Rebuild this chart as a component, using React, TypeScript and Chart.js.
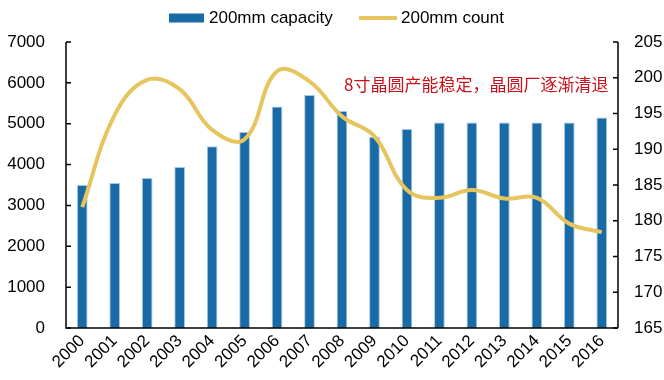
import React, { useEffect, useRef } from "react";
import { Chart, registerables } from "chart.js";

Chart.register(...registerables);

const years = ["2000","2001","2002","2003","2004","2005","2006","2007","2008","2009","2010","2011","2012","2013","2014","2015","2016"];
const capacity = [3500, 3550, 3670, 3940, 4450, 4800, 5420, 5700, 5310, 4680, 4870, 5030, 5030, 5030, 5030, 5030, 5150];
const fabCount = [181.9, 194.8, 199.7, 198.4, 192.7, 191.4, 200.9, 199.5, 194.6, 191.8, 184.3, 183.2, 184.3, 183.1, 183.2, 179.6, 178.4];
const leftTicks = [0, 1000, 2000, 3000, 4000, 5000, 6000, 7000];
const rightTicks = [165, 170, 175, 180, 185, 190, 195, 200, 205];
const note = "8寸晶圆产能稳定，晶圆厂逐渐清退";

const BAR = "#1A6AA5";
const LINE = "#E6C55E";
const FONT = "Liberation Sans, Arial, sans-serif";

// Axis lines with inward ticks, top legend and the red note
const decorPlugin = {
  id: "decor",
  afterDraw(chart: any) {
    const { ctx, chartArea, scales } = chart;
    const { left, right, top, bottom } = chartArea;
    ctx.save();
    ctx.strokeStyle = "#000";
    ctx.lineWidth = 1.5;
    ctx.beginPath();
    ctx.moveTo(left, top);
    ctx.lineTo(left, bottom);
    ctx.lineTo(right, bottom);
    ctx.moveTo(right, top);
    ctx.lineTo(right, bottom);
    ctx.stroke();
    ctx.beginPath();
    leftTicks.forEach((v) => {
      const y = scales.y.getPixelForValue(v);
      ctx.moveTo(left, y);
      ctx.lineTo(left + 5, y);
    });
    rightTicks.forEach((v) => {
      const y = scales.y1.getPixelForValue(v);
      ctx.moveTo(right, y);
      ctx.lineTo(right - 5, y);
    });
    ctx.stroke();

    // legend
    const ds = chart.data.datasets;
    ctx.font = `17px ${FONT}`;
    ctx.textBaseline = "middle";
    ctx.textAlign = "left";
    const ly = 18;
    ctx.fillStyle = BAR;
    ctx.fillRect(169, ly - 4.5, 35, 9);
    ctx.fillStyle = "#000";
    ctx.fillText(ds[0].label, 209, ly);
    ctx.strokeStyle = LINE;
    ctx.lineWidth = 4;
    ctx.beginPath();
    ctx.moveTo(359, ly);
    ctx.lineTo(397, ly);
    ctx.stroke();
    ctx.fillText(ds[1].label, 401, ly);

    // note
    ctx.font = `17px "Noto Sans CJK SC", sans-serif`;
    ctx.fillStyle = "#C8101A";
    ctx.fillText(note, 344, 85);
    ctx.restore();
  },
};

export default function App() {
  const ref = useRef<HTMLCanvasElement | null>(null);

  useEffect(() => {
    if (!ref.current) return;
    const chart = new Chart(ref.current, {
      type: "bar",
      data: {
        labels: years,
        datasets: [
          {
            type: "bar",
            label: "200mm capacity",
            data: capacity,
            backgroundColor: BAR,
            borderColor: "rgba(150,195,230,0.9)",
            borderWidth: 1,
            categoryPercentage: 1,
            barPercentage: 0.33,
            yAxisID: "y",
            order: 1,
          },
          {
            type: "line",
            label: "200mm count",
            data: fabCount,
            borderColor: LINE,
            backgroundColor: LINE,
            borderWidth: 4,
            pointRadius: 0,
            tension: 0.4,
            yAxisID: "y1",
            order: 0,
          },
        ],
      },
      options: {
        animation: false,
        responsive: true,
        maintainAspectRatio: false,
        layout: { padding: { top: 42, left: 0, right: 0, bottom: 0 } },
        plugins: {
          legend: { display: false },
          tooltip: { enabled: false },
        },
        scales: {
          x: {
            grid: { display: false, drawTicks: false },
            border: { display: false },
            ticks: {
              color: "#000",
              font: { size: 17, family: FONT },
              minRotation: 45,
              maxRotation: 45,
              padding: 3,
              autoSkip: false,
            },
            afterFit: (s: any) => { s.height = 52; },
          },
          y: {
            position: "left",
            min: 0,
            max: 7000,
            grid: { display: false, drawTicks: false },
            border: { display: false },
            ticks: {
              stepSize: 1000,
              color: "#000",
              font: { size: 17, family: FONT },
              padding: 21,
              callback: (v: any) => String(v),
            },
            afterFit: (s: any) => { s.width = 66; },
          },
          y1: {
            position: "right",
            min: 165,
            max: 205,
            grid: { display: false, drawTicks: false },
            border: { display: false },
            ticks: {
              stepSize: 5,
              color: "#000",
              font: { size: 17, family: FONT },
              padding: 16,
              callback: (v: any) => String(v),
            },
            afterFit: (s: any) => { s.width = 46; },
          },
        },
      },
      plugins: [decorPlugin],
    });
    return () => chart.destroy();
  }, []);

  return (
    <div style={{ position: "fixed", left: 0, top: 0, width: 664, height: 380, background: "#fff" }}>
      <canvas ref={ref} />
    </div>
  );
}
